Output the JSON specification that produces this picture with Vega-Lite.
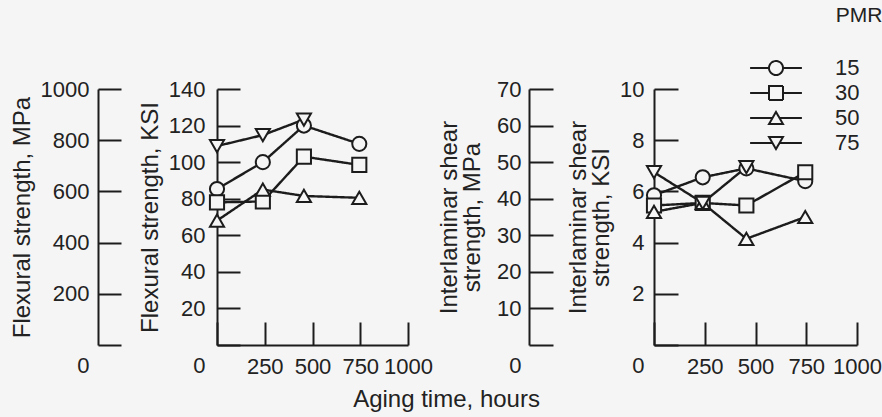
{
  "$schema": "https://vega.github.io/schema/vega-lite/v6.json",
  "autosize": {"type": "pad"},
  "padding": {"left": 10, "top": 5, "right": 5, "bottom": 5},
  "background": "#f5f5f5",
  "bounds": "flush",
  "spacing": 246,
  "title": {"text": "Aging time, hours", "orient": "bottom", "anchor": "middle", "fontSize": 24, "font": "Liberation Sans", "fontWeight": "normal", "color": "#222", "offset": 11},
  "datasets": {
    "flex": [
      {"pmr": "15", "hours": 0, "ksi": 85.3},
      {"pmr": "15", "hours": 240, "ksi": 100},
      {"pmr": "15", "hours": 455, "ksi": 120},
      {"pmr": "15", "hours": 745, "ksi": 110},
      {"pmr": "30", "hours": 0, "ksi": 78},
      {"pmr": "30", "hours": 240, "ksi": 78.5},
      {"pmr": "30", "hours": 455, "ksi": 103},
      {"pmr": "30", "hours": 745, "ksi": 98.5},
      {"pmr": "50", "hours": 0, "ksi": 68},
      {"pmr": "50", "hours": 240, "ksi": 85},
      {"pmr": "50", "hours": 455, "ksi": 81.5},
      {"pmr": "50", "hours": 745, "ksi": 80.5},
      {"pmr": "75", "hours": 0, "ksi": 108.8},
      {"pmr": "75", "hours": 240, "ksi": 114.8},
      {"pmr": "75", "hours": 455, "ksi": 123.3}
    ],
    "ils": [
      {"pmr": "15", "hours": 0, "ksi": 5.85},
      {"pmr": "15", "hours": 240, "ksi": 6.55},
      {"pmr": "15", "hours": 455, "ksi": 6.9},
      {"pmr": "15", "hours": 745, "ksi": 6.4},
      {"pmr": "30", "hours": 0, "ksi": 5.45},
      {"pmr": "30", "hours": 240, "ksi": 5.55},
      {"pmr": "30", "hours": 455, "ksi": 5.45},
      {"pmr": "30", "hours": 745, "ksi": 6.75},
      {"pmr": "50", "hours": 0, "ksi": 5.2},
      {"pmr": "50", "hours": 240, "ksi": 5.55},
      {"pmr": "50", "hours": 455, "ksi": 4.15},
      {"pmr": "50", "hours": 745, "ksi": 5.0},
      {"pmr": "75", "hours": 0, "ksi": 6.75},
      {"pmr": "75", "hours": 240, "ksi": 5.55},
      {"pmr": "75", "hours": 455, "ksi": 6.95}
    ]
  },
  "hconcat": [
    {
      "width": 191,
      "height": 256,
      "data": {"name": "flex"},
      "layer": [
        {
          "mark": {"type": "point", "opacity": 0},
          "encoding": {
            "y": {"datum": 0, "type": "quantitative", "scale": {"domain": [0, 1000], "nice": false},
              "axis": {"orient": "left", "offset": 119, "values": [0, 200, 400, 600, 800, 1000], "format": "d", "labelOverlap": false, "labelPadding": 32, "title": "Flexural strength, MPa", "titlePadding": 6,
                "labelOffset": {"condition": {"test": "datum.value === 0", "value": 20}, "value": 0}}}
          }
        },
        {
          "layer": [
            {
              "mark": {"type": "line", "color": "#1c1c1c", "strokeWidth": 2.4},
              "encoding": {
                "x": {"field": "hours", "type": "quantitative", "scale": {"domain": [0, 1000], "nice": false},
                  "axis": {"orient": "bottom", "values": [0, 250, 500, 750, 1000], "format": "d", "labelOverlap": false, "labelPadding": 34, "labelExpr": "datum.value === 0 ? '' : datum.label", "title": null}},
                "y": {"field": "ksi", "type": "quantitative", "scale": {"domain": [0, 140], "nice": false},
                  "axis": {"orient": "left", "offset": 0, "values": [0, 20, 40, 60, 80, 100, 120, 140], "format": "d", "labelOverlap": false, "labelPadding": 35, "title": "Flexural strength, KSI", "titlePadding": 6,
                    "labelOffset": {"condition": {"test": "datum.value === 0", "value": 20}, "value": 0}}},
                "detail": {"field": "pmr", "type": "nominal"},
                "strokeDash": {"field": "pmr", "type": "nominal",
                  "scale": {"domain": ["15", "30", "50", "75"], "range": [[1, 0], [1, 0], [1, 0], [1, 0]]},
                  "legend": {"title": "PMR", "orient": "none", "legendX": 548, "legendY": -84, "padding": 0,
                    "titleFontSize": 21, "titleFont": "Liberation Sans", "titleFontWeight": "normal", "titleColor": "#222", "titleAnchor": "end", "titleAlign": "center", "titlePadding": 31,
                    "labelFontSize": 22, "labelFont": "Liberation Sans", "labelColor": "#222", "labelOffset": 48, "symbolSize": 196, "rowPadding": 3,
                    "symbolFillColor": "#f5f5f5", "symbolStrokeColor": "#1c1c1c", "symbolStrokeWidth": 2,
                    "symbolType": {"expr": "datum.value === '15' ? 'M-3.7,0H-1M1,0H3.7M-1,0A1,1 0 1,0 1,0A1,1 0 1,0 -1,0' : datum.value === '30' ? 'M-3.7,0H-1M1,0H3.7M-1,-1H1V1H-1Z' : datum.value === '50' ? 'M-3.7,0H-0.5M0.5,0H3.7M0,-0.87L1,0.87H-1Z' : 'M-3.7,0H-0.5M0.5,0H3.7M0,0.87L1,-0.87H-1Z'"}}
                }
              }
            },
            {
              "mark": {"type": "point", "filled": true, "fill": "#f5f5f5", "stroke": "#1c1c1c", "strokeWidth": 2, "size": 200, "opacity": 1},
              "encoding": {
                "x": {"field": "hours", "type": "quantitative",
                  "axis": {"orient": "bottom", "values": [0, 250, 500, 750, 1000], "format": "d", "labelOverlap": false, "labelPadding": 34, "labelExpr": "datum.value === 0 ? '' : datum.label", "title": null}},
                "y": {"field": "ksi", "type": "quantitative",
                  "axis": {"orient": "left", "offset": 0, "values": [0, 20, 40, 60, 80, 100, 120, 140], "format": "d", "labelOverlap": false, "labelPadding": 35, "title": "Flexural strength, KSI", "titlePadding": 6,
                    "labelOffset": {"condition": {"test": "datum.value === 0", "value": 20}, "value": 0}}},
                "shape": {"field": "pmr", "type": "nominal",
                  "scale": {"range": ["circle", "square", "triangle-up", "triangle-down"]},
                  "legend": null}
              }
            }
          ]
        }
      ],
      "resolve": {"scale": {"y": "independent"}}
    },
    {
      "width": 203,
      "height": 256,
      "data": {"name": "ils"},
      "layer": [
        {
          "mark": {"type": "point", "opacity": 0},
          "encoding": {
            "y": {"datum": 0, "type": "quantitative", "scale": {"domain": [0, 70], "nice": false},
              "axis": {"orient": "left", "offset": 125, "tickSize": -24, "values": [0, 10, 20, 30, 40, 50, 60, 70], "format": "d", "labelOverlap": false, "labelPadding": 32, "title": ["Interlaminar shear", "strength, MPa"], "titlePadding": 12, "titleLineHeight": 23,
                "labelOffset": {"condition": {"test": "datum.value === 0", "value": 20}, "value": 0}}}
          }
        },
        {
          "layer": [
            {
              "mark": {"type": "line", "color": "#1c1c1c", "strokeWidth": 2.4},
              "encoding": {
                "x": {"field": "hours", "type": "quantitative", "scale": {"domain": [0, 1000], "nice": false},
                  "axis": {"orient": "bottom", "values": [0, 250, 500, 750, 1000], "format": "d", "labelOverlap": false, "labelPadding": 34, "labelExpr": "datum.value === 0 ? '' : datum.label", "title": null}},
                "y": {"field": "ksi", "type": "quantitative", "scale": {"domain": [0, 10], "nice": false},
                  "axis": {"orient": "left", "offset": 0, "tickSize": -24, "values": [0, 2, 4, 6, 8, 10], "format": "d", "labelOverlap": false, "labelPadding": 34, "title": ["Interlaminar shear", "strength, KSI"], "titlePadding": 6, "titleLineHeight": 23,
                    "labelOffset": {"condition": {"test": "datum.value === 0", "value": 20}, "value": 0}}},
                "detail": {"field": "pmr", "type": "nominal"},
                "strokeDash": {"field": "pmr", "type": "nominal",
                  "scale": {"domain": ["15", "30", "50", "75"], "range": [[1, 0], [1, 0], [1, 0], [1, 0]]},
                  "legend": {"title": "PMR", "orient": "none", "legendX": 548, "legendY": -84, "padding": 0,
                    "titleFontSize": 21, "titleFont": "Liberation Sans", "titleFontWeight": "normal", "titleColor": "#222", "titleAnchor": "end", "titleAlign": "center", "titlePadding": 31,
                    "labelFontSize": 22, "labelFont": "Liberation Sans", "labelColor": "#222", "labelOffset": 48, "symbolSize": 196, "rowPadding": 3,
                    "symbolFillColor": "#f5f5f5", "symbolStrokeColor": "#1c1c1c", "symbolStrokeWidth": 2,
                    "symbolType": {"expr": "datum.value === '15' ? 'M-3.7,0H-1M1,0H3.7M-1,0A1,1 0 1,0 1,0A1,1 0 1,0 -1,0' : datum.value === '30' ? 'M-3.7,0H-1M1,0H3.7M-1,-1H1V1H-1Z' : datum.value === '50' ? 'M-3.7,0H-0.5M0.5,0H3.7M0,-0.87L1,0.87H-1Z' : 'M-3.7,0H-0.5M0.5,0H3.7M0,0.87L1,-0.87H-1Z'"}}
                }
              }
            },
            {
              "mark": {"type": "point", "filled": true, "fill": "#f5f5f5", "stroke": "#1c1c1c", "strokeWidth": 2, "size": 200, "opacity": 1},
              "encoding": {
                "x": {"field": "hours", "type": "quantitative",
                  "axis": {"orient": "bottom", "values": [0, 250, 500, 750, 1000], "format": "d", "labelOverlap": false, "labelPadding": 34, "labelExpr": "datum.value === 0 ? '' : datum.label", "title": null}},
                "y": {"field": "ksi", "type": "quantitative",
                  "axis": {"orient": "left", "offset": 0, "tickSize": -24, "values": [0, 2, 4, 6, 8, 10], "format": "d", "labelOverlap": false, "labelPadding": 34, "title": ["Interlaminar shear", "strength, KSI"], "titlePadding": 6, "titleLineHeight": 23,
                    "labelOffset": {"condition": {"test": "datum.value === 0", "value": 20}, "value": 0}}},
                "shape": {"field": "pmr", "type": "nominal",
                  "scale": {"range": ["circle", "square", "triangle-up", "triangle-down"]},
                  "legend": null}
              }
            }
          ]
        }
      ],
      "resolve": {"scale": {"y": "independent"}}
    }
  ],
  "config": {
    "view": {"stroke": null},
    "axis": {"domainColor": "#1c1c1c", "tickColor": "#1c1c1c", "domainWidth": 2, "tickWidth": 2, "tickSize": -23,
      "labelFont": "Liberation Sans", "labelFontSize": 22, "labelColor": "#222",
      "titleFont": "Liberation Sans", "titleFontSize": 24, "titleFontWeight": "normal", "titleColor": "#222",
      "grid": false, "labelFlush": false, "labelOverlap": false, "labelBound": false, "minExtent": 0}
  }
}
